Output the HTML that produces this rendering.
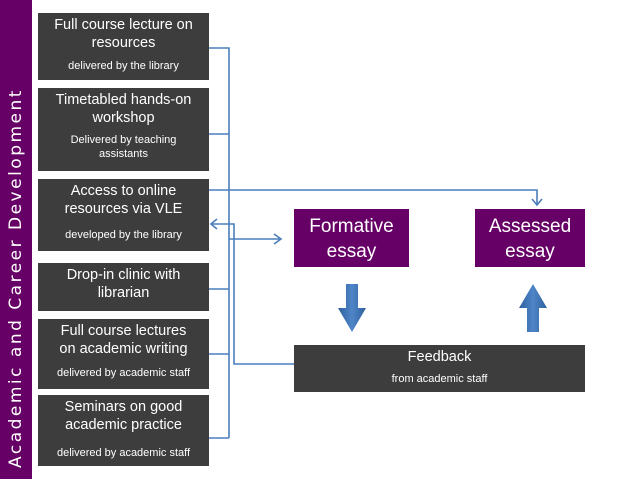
<!DOCTYPE html>
<html><head><style>
body{margin:0;width:638px;height:479px;background:#fff;position:relative;overflow:hidden;font-family:"Liberation Sans",sans-serif}
.bar{position:absolute;left:0;top:0;width:32px;height:479px;background:#660066}
.vt{position:absolute;left:16px;top:278px;transform:translate(-50%,-50%) rotate(-90deg);white-space:nowrap;color:#fff;font-size:17px;font-family:"DejaVu Sans","Liberation Sans",sans-serif;letter-spacing:2.5px}
.b{position:absolute;left:38px;width:171px;background:#3d3d3d;color:#fff;text-align:center;box-sizing:border-box;padding-top:3px}
.t{font-size:14.5px;line-height:18px}
.s{font-size:11px;line-height:14px;margin-top:4px}
.p{position:absolute;background:#660066;color:#fff;text-align:center;font-size:19px;line-height:25px;padding-top:5px;box-sizing:border-box}
</style></head><body>
<div class="bar"></div>
<div class="vt">Academic and Career Development</div>
<div class="b" style="top:13px;height:67px"><div class="t">Full course lecture on<br>resources</div><div class="s" style="margin-top:7px">delivered by the library</div></div>
<div class="b" style="top:88px;height:83px"><div class="t">Timetabled hands-on<br>workshop</div><div class="s" style="margin-top:6px">Delivered by teaching<br>assistants</div></div>
<div class="b" style="top:179px;height:72px"><div class="t">Access to online<br>resources via VLE</div><div class="s" style="margin-top:10px">developed by the library</div></div>
<div class="b" style="top:263px;height:48px"><div class="t">Drop-in clinic with<br>librarian</div></div>
<div class="b" style="top:319px;height:70px"><div class="t">Full course lectures<br>on academic writing</div><div class="s" style="margin-top:8px">delivered by academic staff</div></div>
<div class="b" style="top:395px;height:71px"><div class="t">Seminars on good<br>academic practice</div><div class="s" style="margin-top:12px">delivered by academic staff</div></div>
<div class="p" style="left:294px;top:209px;width:115px;height:58px">Formative<br>essay</div>
<div class="p" style="left:475px;top:209px;width:110px;height:58px">Assessed<br>essay</div>
<div style="position:absolute;left:294px;top:345px;width:291px;height:47px;background:#3d3d3d;color:#fff;text-align:center">
<div style="font-size:14.5px;margin-top:4px">Feedback</div><div style="font-size:11px;margin-top:8px">from academic staff</div></div>
<svg width="638" height="479" style="position:absolute;left:0;top:0">
<defs>
<linearGradient id="g" x1="0" x2="1"><stop offset="0" stop-color="#2e5f9e"/><stop offset="0.5" stop-color="#4f86c8"/><stop offset="1" stop-color="#2e5f9e"/></linearGradient>
</defs>
<g stroke="#4a7ebb" stroke-width="1.6" fill="none">
<path d="M209 48H229V438"/>
<path d="M209 134H229"/>
<path d="M209 289H229"/>
<path d="M209 354H229"/>
<path d="M209 438H229"/>
<path d="M209 190H537V205"/>
<path d="M532 199L537 205L542 199"/>
<path d="M294 364H234V224H212"/>
<path d="M217 219L211 224L217 229"/>
<path d="M229 239H280"/>
<path d="M274 234L281 239L274 244"/>
</g>
<path d="M346 284H358V308H366L352 332L338 308H346Z" fill="url(#g)"/>
<path d="M527 332H539V308H547L533 284L519 308H527Z" fill="url(#g)"/>
</svg>
</body></html>
